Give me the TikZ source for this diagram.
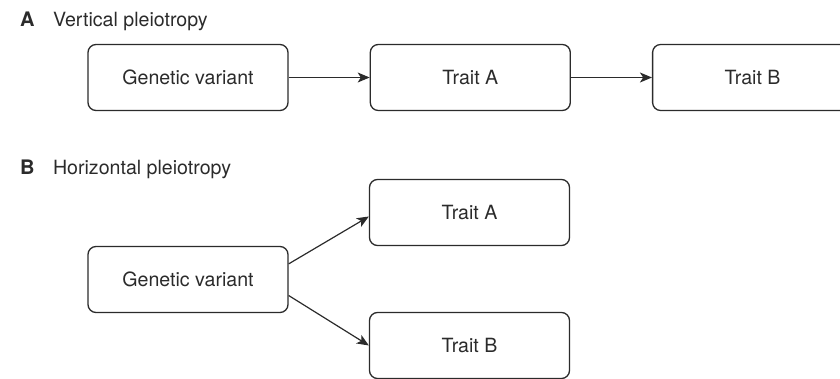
\documentclass[tikz,border=0pt]{standalone}
\usepackage{fontspec}
\setmainfont{TeX Gyre Heros}
\usetikzlibrary{positioning,arrows.meta}
\definecolor{ink}{HTML}{2B2B2B}
\begin{document}
\begin{tikzpicture}[x=0.5pt, y=-0.5pt,
  font=\fontsize{9.8}{12}\selectfont, text=ink,
  box/.style={draw=ink, line width=0.65pt, rounded corners=4pt,
    minimum width=100pt, minimum height=33pt, inner sep=0pt},
  link/.style={draw=ink, line width=0.6pt,
    -{Stealth[length=6pt, width=5pt, inset=1.6pt]}}]
\useasboundingbox (0,0) rectangle (840,379);

% Panel A
\node[anchor=base west, font=\fontsize{10}{12}\selectfont\bfseries] (labA) at (13,27) {A};
\node[anchor=base west] (titleA) at (46,27) {Vertical pleiotropy};
\node[box] (gvA) at (188,77.5) {Genetic variant};
\node[box, right=40.5pt of gvA] (taA) {Trait A};
\node[box, right=40.5pt of taA] (tbA) {Trait B};
\draw[link] (gvA) -- (taA);
\draw[link] (taA) -- (tbA);

% Panel B
\node[anchor=base west, font=\fontsize{10}{12}\selectfont\bfseries] (labB) at (13,175) {B};
\node[anchor=base west] (titleB) at (46,175) {Horizontal pleiotropy};
\node[box] (gvB) at (188,279.5) {Genetic variant};
\node[box] (taB) at (469.5,212.5) {Trait A};
\node[box] (tbB) at (469.5,345.5) {Trait B};
\draw[link] ([yshift=7.8pt]gvB.east) -- ([yshift=-2pt]taB.west);
\draw[link] ([yshift=-8pt]gvB.east) -- (tbB.west);
\end{tikzpicture}
\end{document}
